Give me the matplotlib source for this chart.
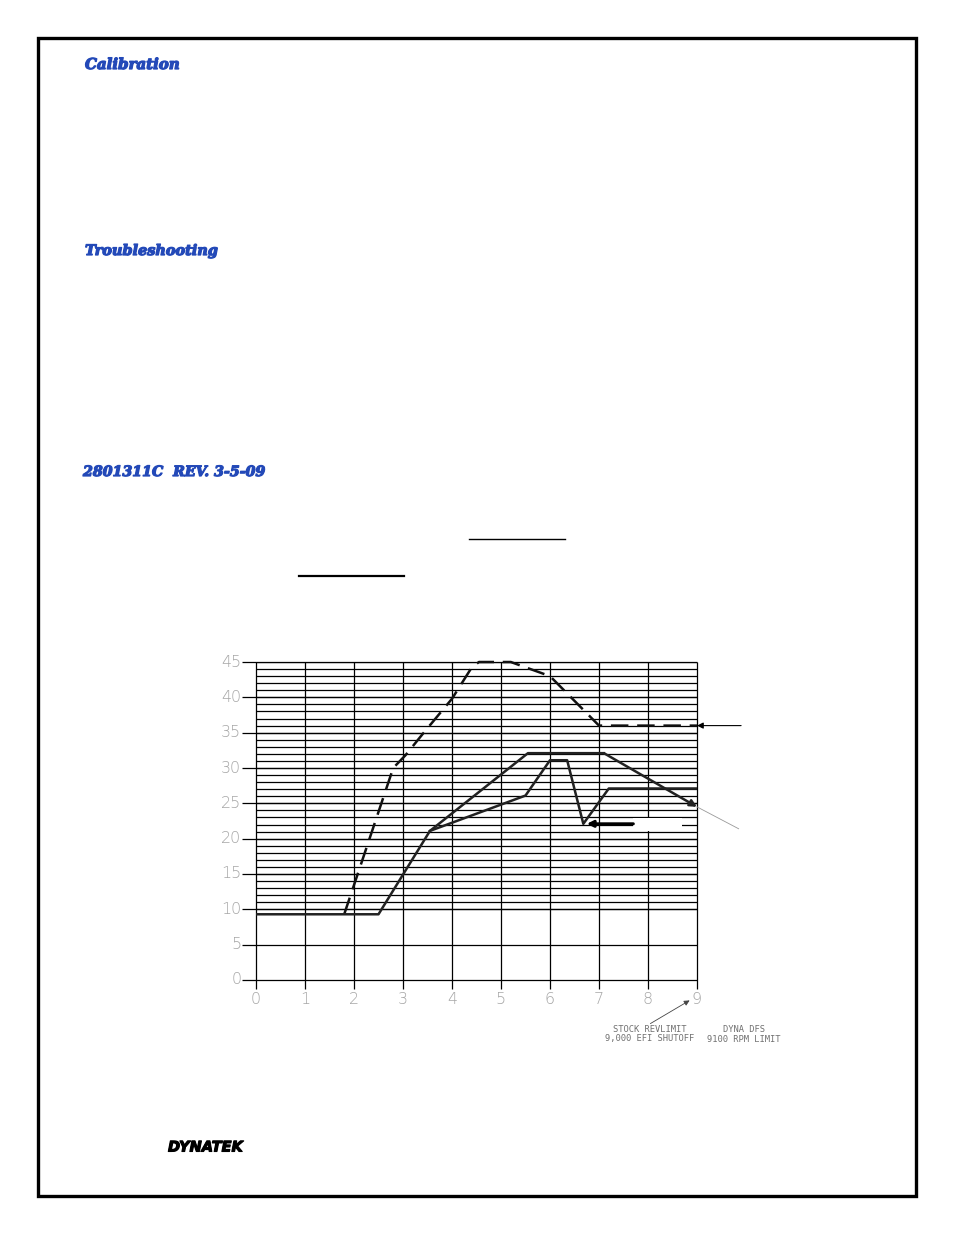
import matplotlib
matplotlib.use("Agg")
import matplotlib.pyplot as plt
import matplotlib.patheffects as pe
import numpy as np

# chart values
x_ticks = [0, 1, 2, 3, 4, 5, 6, 7, 8, 9]
y_ticks = [0, 5, 10, 15, 20, 25, 30, 35, 40, 45]
fine_rows = list(range(10, 46))

dashed_x = [1.8, 2.8, 3.05, 3.4, 4.0, 4.4, 4.55, 5.2, 6.0, 7.0, 9.0]
dashed_y = [9.3, 30.0, 31.8, 34.8, 39.8, 44.2, 45.0, 45.0, 43.0, 36.0, 36.0]

upper_x = [0.0, 2.5, 3.55, 5.55, 7.1, 9.0]
upper_y = [9.3, 9.3, 21.1, 32.1, 32.1, 24.5]

lower_x = [3.55, 5.5, 6.0, 6.35, 6.68, 7.2, 9.0]
lower_y = [21.1, 26.1, 31.1, 31.1, 22.1, 27.1, 27.1]

headers = ["Calibration", "Troubleshooting", "2801311C  REV. 3-5-09"]
header_pos = [(85, 65), (85, 251), (83, 472)]
header_size = [10.8, 10.4, 10.2]
note_left = ["STOCK REVLIMIT", "9,000 EFI SHUTOFF"]
note_right = ["DYNA DFS", "9100 RPM LIMIT"]

BLUE = "#2349b8"
TICK_GREY = "#a6a6a6"

W, H = 954, 1235
fig = plt.figure(figsize=(W / 100, H / 100), dpi=100)

# page layer in pixel coordinates
page = fig.add_axes([0, 0, 1, 1])
page.set_xlim(0, W)
page.set_ylim(H, 0)
page.axis("off")

page.add_patch(plt.Rectangle((38, 38), 878, 1158, fill=False, lw=2.4, ec="black"))

heavy = [pe.withStroke(linewidth=0.9, foreground=BLUE)]
for txt, (px, py), fs in zip(headers, header_pos, header_size):
    page.text(px, py, txt, color=BLUE, fontsize=fs, family="DejaVu Serif",
              weight="bold", style="italic", va="center", ha="left",
              path_effects=heavy)

page.plot([469, 565], [539, 539], color="black", lw=1.0)
page.plot([299, 404], [576, 576], color="black", lw=1.6)

page.text(168, 1147, "DYNATEK", fontsize=10.5, weight="bold", style="italic",
          family="DejaVu Sans", va="center", ha="left",
          path_effects=[pe.withStroke(linewidth=0.8, foreground="black")])

for i, line in enumerate(note_left):
    page.text(650, 1029 + i * 10, line, fontsize=6.3, family="DejaVu Sans Mono",
              color="#707070", ha="center", va="center")
for i, line in enumerate(note_right):
    page.text(744, 1029 + i * 10, line, fontsize=6.3, family="DejaVu Sans Mono",
              color="#707070", ha="center", va="center")
page.annotate("", xy=(692, 999), xytext=(648, 1025),
              arrowprops=dict(arrowstyle="-|>", color="#444444", lw=0.6,
                              mutation_scale=8))

# the chart itself
left, right, top, bottom = 256, 697, 662, 980
ax = fig.add_axes([left / W, 1 - bottom / H, (right - left) / W, (bottom - top) / H])
ax.set_xlim(0, 9)
ax.set_ylim(0, 45)
ax.axis("off")

# fine horizontal rows between 10 and 45
ax.hlines(fine_rows, 0, 9, color="black", lw=0.9, zorder=1)
# major rows reach out left as tick marks
ax.hlines(y_ticks, -0.28, 9, color="black", lw=0.9, zorder=1, clip_on=False)
# verticals drop a little below zero
ax.vlines(x_ticks, -1.3, 45, color="black", lw=0.9, zorder=1, clip_on=False)

# blank patch where a label was erased
ax.add_patch(plt.Rectangle((7.69, 21.15), 1.0, 1.75, fc="white", ec="none", zorder=2))

for yv in y_ticks:
    ax.text(-0.3, yv, str(yv), color=TICK_GREY, fontsize=11.5, ha="right",
            va="center", weight="light", clip_on=False)
for xv in x_ticks:
    ax.text(xv, -2.8, str(xv), color=TICK_GREY, fontsize=11.5, ha="center",
            va="center", weight="light", clip_on=False)

ax.plot(dashed_x, dashed_y, color="#111111", lw=1.8, ls=(0, (7, 3.5)), zorder=3,
        clip_on=False)
ax.plot(upper_x[:-1], upper_y[:-1], color="#222222", lw=1.8, zorder=3)
ax.annotate("", xy=(upper_x[-1], upper_y[-1]), xytext=(upper_x[-2], upper_y[-2]),
            arrowprops=dict(arrowstyle="-|>", color="#222222", lw=1.8,
                            mutation_scale=10, shrinkA=0, shrinkB=0), zorder=3)
ax.plot(lower_x, lower_y, color="#222222", lw=1.8, zorder=3)

# leader lines and arrows on the right
ax.annotate("", xy=(9.0, 36.0), xytext=(9.9, 36.0),
            arrowprops=dict(arrowstyle="-|>", color="black", lw=0.8,
                            mutation_scale=9, shrinkA=0, shrinkB=0),
            annotation_clip=False)
ax.plot([9.0, 9.85], [24.5, 21.4], color="#999999", lw=0.6, clip_on=False)
ax.annotate("", xy=(6.75, 22.1), xytext=(7.7, 22.1),
            arrowprops=dict(arrowstyle="-|>", color="black", lw=2.2,
                            mutation_scale=9, shrinkA=0, shrinkB=0),
            annotation_clip=False, zorder=4)

fig.savefig("out.png", dpi=100)
